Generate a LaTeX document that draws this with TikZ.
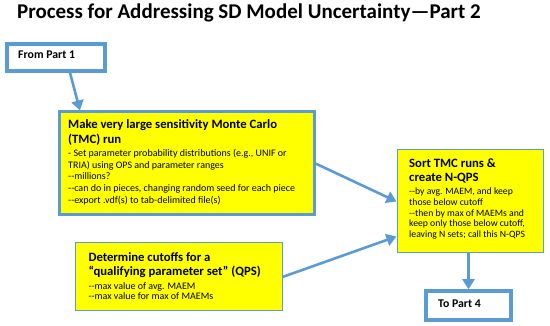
\documentclass[tikz,border=0pt]{standalone}
\usepackage{fontspec}
\newfontfamily\carl{Carlito}
\usetikzlibrary{arrows.meta}
\definecolor{bblue}{RGB}{91,155,213}
\definecolor{byellow}{RGB}{255,255,0}
\begin{document}
\begin{tikzpicture}[x=1pt,y=-1pt,
  thickbox/.style={draw=bblue, line width=3.5pt, fill=white, inner sep=0pt},
  tmcbox/.style={draw=bblue, line width=3pt, fill=byellow, inner sep=0pt},
  thinbox/.style={draw=bblue, line width=1pt, fill=byellow, inner sep=0pt},
  conn/.style={draw=bblue, line width=2.6pt, -{Triangle[length=10pt,width=12pt]}},
  txt/.style={anchor=base west, inner sep=0pt},
  ttl/.style={txt, font=\carl\fontsize{21}{24}\selectfont\bfseries},
  lbl/.style={txt, font=\carl\fontsize{11.8}{14}\selectfont\bfseries},
  hd/.style={txt, font=\carl\fontsize{12.7}{15}\selectfont\bfseries},
  sm/.style={txt, font=\carl\fontsize{10}{12}\selectfont},
  sms/.style={txt, font=\carl\fontsize{9.7}{11}\selectfont}]
\useasboundingbox (0,0) rectangle (550,326);
\node[ttl] (title) at (17,19) {Process for Addressing SD Model Uncertainty—Part 2};
% boxes
\node[thickbox, minimum width=98pt, minimum height=27pt] (fp) at (56,57.5) {};
\node[lbl] (fpt) at (18,59) {From Part 1};
\node[tmcbox, minimum width=255pt, minimum height=103pt] (tmc) at (186.5,163.5) {};
\node[thinbox, minimum width=146pt, minimum height=103pt] (sort) at (470,201.5) {};
\node[thinbox, minimum width=207pt, minimum height=68pt] (det) at (178.5,277) {};
\node[thickbox, minimum width=85pt, minimum height=29pt] (tp) at (468.5,305.5) {};
\node[lbl] (tpt) at (438,308) {To Part 4};
% TMC text
\node[hd] (tmch1) at (68,129) {Make very large sensitivity Monte Carlo};
\node[hd] (tmch2) at (68,144) {(TMC) run};
\foreach \t [count=\i] in {{- Set parameter probability  distributions (e.g., UNIF or},{TRIA) using OPS and parameter ranges},{--millions?},{--can do in pieces, changing random seed for each piece},{--export .vdf(s) to tab-delimited file(s)}}
  \node[sm] (tmcs\i) at (68,{156.7+11.65*(\i-1)}) {\t};
% Sort text
\node[hd] (sorth1) at (409,167.3) {Sort TMC runs \&};
\node[hd] (sorth2) at (409,181.7) {create N-QPS};
\foreach \t [count=\i] in {{--by avg. MAEM, and  keep},{those below cutoff},{--then by max of MAEMs and},{keep only those below cutoff,},{leaving N sets; call this N-QPS}}
  \node[sms] (sorts\i) at (409,{195+10.55*(\i-1)}) {\t};
% Determine text
\node[hd] (deth1) at (88.3,261.7) {Determine cutoffs for a};
\node[hd] (deth2) at (88.3,275.7) {“qualifying parameter set” (QPS)};
\node[sm] (dets1) at (88.3,290) {--max value of avg. MAEM};
\node[sm] (dets2) at (88.3,300) {--max value for max of MAEMs};
% connectors
\draw[conn] ([xshift=14pt]fp.south) -- ([xshift=-106.5pt]tmc.north);
\draw[conn] (tmc.east) -- (sort.west);
\draw[conn] (det.east) -- ([yshift=-35pt]sort.west);
\draw[conn] (tp.north |- sort.south) -- (tp.north);
\end{tikzpicture}
\end{document}
